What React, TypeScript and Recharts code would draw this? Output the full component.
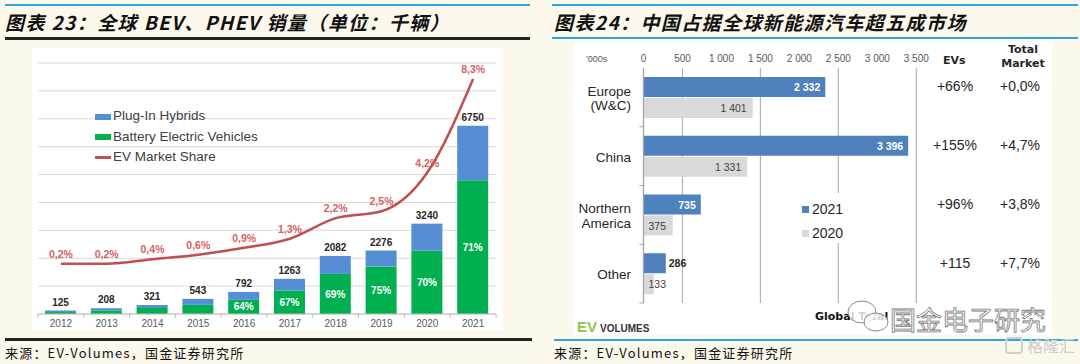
import React from "react"
import { ComposedChart, BarChart, Bar, Line, XAxis, YAxis, CartesianGrid, LabelList, Legend } from "recharts"

// 图表23 data (千辆)
const years = ["2012", "2013", "2014", "2015", "2016", "2017", "2018", "2019", "2020", "2021"]
const evTotal = [125, 208, 321, 543, 792, 1263, 2082, 2276, 3240, 6750]
const bevSales = [70, 130, 215, 330, 507, 846, 1437, 1707, 2268, 4792]
const phevSales = [55, 78, 106, 213, 285, 417, 645, 569, 972, 1958]
const bevShareLabel = [null, null, null, null, 64, 67, 69, 75, 70, 71]
const marketShare = [0.2, 0.2, 0.4, 0.6, 0.9, 1.3, 2.2, 2.5, 4.2, 8.3]
const unitTicks = [0, 1000, 2000, 3000, 4000, 5000, 6000, 7000, 8000, 9000]

// 图表24 data ('000s)
const regions = ["Europe\n(W&C)", "China", "Northern\nAmerica", "Other"]
const sales2021 = [2332, 3396, 735, 286]
const sales2020 = [1401, 1331, 375, 133]
const evGrowth = ["+66%", "+155%", "+96%", "+115"]
const marketGrowth = ["+0,0%", "+4,7%", "+3,8%", "+7,7%"]
const volumeTicks = [0, 500, 1000, 1500, 2000, 2500, 3000, 3500]

const salesData = years.map((year, i) => ({
  year,
  bev: bevSales[i],
  phev: phevSales[i],
  total: evTotal[i],
  bevPct: bevShareLabel[i],
  share: marketShare[i],
}))

const regionData = regions.map((region, i) => ({ region, y2021: sales2021[i], y2020: sales2020[i] }))

const SANS = "'Liberation Sans', Arial, sans-serif"
const CJK = "'Noto Sans CJK SC', sans-serif"
const VERD = "'DejaVu Sans', sans-serif"

const fmtSpace = (v: number) => String(v).replace(/\B(?=(\d{3})+(?!\d))/g, " ")

const YearTick = (props: any) => {
  const { x, y, payload, index } = props
  const half = 22.95
  return (
    <g>
      <line x1={x - half} x2={x - half} y1={y} y2={y + 4} stroke="#bfbfbf" />
      {index === years.length - 1 && <line x1={x + half} x2={x + half} y1={y} y2={y + 4} stroke="#bfbfbf" />}
      <text x={x} y={y + 13} textAnchor="middle" fill="#595959" fontSize={10} fontFamily={SANS}>
        {payload.value}
      </text>
    </g>
  )
}

const SalesLegend = (props: any) => {
  const items = props.payload || []
  const order = ["phev", "bev", "share"]
  return (
    <div style={{ fontFamily: SANS, fontSize: 13.5, color: "#404040" }}>
      {order.map((key) => {
        const it = items.find((p: any) => p.dataKey === key)
        if (!it) return null
        return (
          <div key={key} style={{ position: "relative", height: 20.5, lineHeight: "20.5px", paddingLeft: 18, whiteSpace: "nowrap" }}>
            <span
              style={{
                position: "absolute",
                left: 0,
                top: key === "share" ? 9 : 7.5,
                width: 16,
                height: key === "share" ? 2.5 : 6,
                background: it.color,
              }}
            />
            {it.value}
          </div>
        )
      })}
    </div>
  )
}

const RegionTick = (props: any) => {
  const { x, y, payload } = props
  const lines = String(payload.value).split("\n")
  const band = 58.75
  const gap = 14.5
  const first = 4.8 - ((lines.length - 1) * gap) / 2 + 1
  return (
    <g>
      <line x1={x - 4} x2={x} y1={y + band / 2} y2={y + band / 2} stroke="#a6a6a6" />
      <text x={x - 12.5} y={y} textAnchor="end" fill="#262626" fontSize={13.5} fontFamily={SANS}>
        {lines.map((l, i) => (
          <tspan key={i} x={x - 12.5} dy={i === 0 ? first : gap}>
            {l}
          </tspan>
        ))}
      </text>
    </g>
  )
}

const GrowthTick = (props: any) => {
  const { x, y, index } = props
  return (
    <g fontFamily={SANS} fontSize={14} fill="#262626">
      <text x={x + 38.7} y={y - 11} dy={5} textAnchor="middle">
        {evGrowth[index]}
      </text>
      <text x={x + 103.7} y={y - 11} dy={5} textAnchor="middle">
        {marketGrowth[index]}
      </text>
    </g>
  )
}

const label2021 = (props: any) => {
  const { x, y, width, height, value } = props
  const inside = width > 40
  return (
    <text
      x={inside ? x + width - 5 : x + width + 3}
      y={y + height / 2}
      dy={4}
      textAnchor={inside ? "end" : "start"}
      fill={inside ? "#ffffff" : "#262626"}
      fontSize={10.5}
      fontWeight="bold"
      fontFamily={SANS}
    >
      {fmtSpace(value)}
    </text>
  )
}

const label2020 = (props: any) => {
  const { x, y, width, height, value } = props
  const fits = width > 45
  return (
    <text
      x={fits ? x + width - 6 : x + 5}
      y={y + height / 2}
      dy={4}
      textAnchor={fits ? "end" : "start"}
      fill="#404040"
      fontSize={10.5}
      fontFamily={SANS}
    >
      {fmtSpace(value)}
    </text>
  )
}

const YearLegend = (props: any) => {
  const items = props.payload || []
  const order = ["y2021", "y2020"]
  return (
    <div style={{ position: "relative", width: 53, height: 50, background: "#fff", fontFamily: SANS, fontSize: 14, color: "#262626" }}>
      {order.map((key, i) => {
        const it = items.find((p: any) => p.dataKey === key)
        if (!it) return null
        return (
          <div key={key} style={{ position: "absolute", left: 5, top: i === 0 ? 8 : 32, lineHeight: "16px", whiteSpace: "nowrap" }}>
            <span style={{ display: "inline-block", width: 7, height: 7, background: it.color, marginRight: 3, verticalAlign: "1px" }} />
            {it.value}
          </div>
        )
      })}
    </div>
  )
}

const hLine = (left: number, top: number, width: number, h: number, color: string) => (
  <div style={{ position: "absolute", left, top, width, height: h, background: color }} />
)

export default function App() {
  return (
    <div style={{ position: "absolute", left: 0, top: 0, width: 1080, height: 364, background: "#fdf8ec", overflow: "hidden" }}>
      {/* left panel frame */}
      {hLine(5, 4, 525, 2, "#29a8e0")}
      <div style={{ position: "absolute", left: 5, top: 10, fontFamily: CJK, fontSize: 19, fontWeight: "bold", fontStyle: "italic", letterSpacing: 1.4, lineHeight: "24px", color: "#111", whiteSpace: "nowrap" }}>
        图表 23：全球 BEV、PHEV 销量（单位：千辆）
      </div>
      {hLine(5, 37, 525, 3, "#262322")}
      <div style={{ position: "absolute", left: 32, top: 48, width: 470, height: 282, background: "#fff" }}>
        <ComposedChart width={470} height={282} data={salesData} margin={{ top: 15, right: 6, bottom: 0, left: 6 }} barSize={31}>
          <CartesianGrid vertical={false} stroke="#d9d9d9" yAxisId="units" />
          <XAxis dataKey="year" axisLine={{ stroke: "#bfbfbf" }} tickLine={false} tickSize={0} tickMargin={0} height={16} interval={0} tick={<YearTick />} />
          <YAxis yAxisId="units" hide domain={[0, 9000]} ticks={unitTicks} />
          <YAxis yAxisId="share" hide orientation="right" domain={[-2, 9]} />
          <Bar yAxisId="units" dataKey="bev" stackId="ev" fill="#00b050" name="Battery Electric Vehicles" isAnimationActive={false}>
            <LabelList dataKey="bevPct" position="center" formatter={(v: any) => v + "%"} fill="#ffffff" fontSize={10} fontWeight="bold" fontFamily={SANS} />
          </Bar>
          <Bar yAxisId="units" dataKey="phev" stackId="ev" fill="#558ed5" name="Plug-In Hybrids" isAnimationActive={false}>
            <LabelList dataKey="total" position="top" offset={5} fill="#262626" fontSize={10} fontWeight="bold" fontFamily={SANS} />
          </Bar>
          <Line yAxisId="share" dataKey="share" name="EV Market Share" type="monotone" stroke="#c0504d" strokeWidth={2.5} dot={false} activeDot={false} isAnimationActive={false}>
            <LabelList dataKey="share" position="top" offset={6} formatter={(v: any) => String(v).replace(".", ",") + "%"} fill="#d65f5f" fontSize={10.5} fontWeight="bold" fontFamily={SANS} />
          </Line>
          <Legend layout="vertical" align="center" verticalAlign="middle" content={<SalesLegend />} wrapperStyle={{ left: 63, top: 58, width: 200 }} />
        </ComposedChart>
      </div>
      {hLine(5, 338, 527, 3, "#262322")}
      <div style={{ position: "absolute", left: 5, top: 344, fontFamily: CJK, fontSize: 13, letterSpacing: 1.2, lineHeight: "18px", color: "#111", whiteSpace: "nowrap" }}>
        来源：EV-Volumes，国金证券研究所
      </div>

      {/* right panel frame */}
      {hLine(552, 4, 526, 2, "#29a8e0")}
      <div style={{ position: "absolute", left: 554, top: 10, fontFamily: CJK, fontSize: 19, fontWeight: "bold", fontStyle: "italic", letterSpacing: 1.4, lineHeight: "24px", color: "#111", whiteSpace: "nowrap" }}>
        图表24：中国占据全球新能源汽车超五成市场
      </div>
      {hLine(552, 37, 526, 2, "#29a8e0")}
      <div style={{ position: "absolute", left: 573, top: 42, width: 479, height: 293, background: "#fff" }}>
        <BarChart layout="vertical" width={479} height={293} data={regionData} margin={{ top: 0, right: 0, bottom: 32, left: 0 }} barSize={20} barGap={1}>
          <CartesianGrid horizontal={false} stroke="#b3b3b3" strokeWidth={1.2} yAxisId="region" />
          <XAxis type="number" orientation="top" domain={[0, 3500]} ticks={volumeTicks} height={26} axisLine={false} tickLine={false} tickSize={0} tickMargin={6} tickFormatter={fmtSpace} tick={{ fill: "#595959", fontSize: 10, fontFamily: SANS }} />
          <YAxis yAxisId="region" type="category" dataKey="region" width={70.5} axisLine={{ stroke: "#a6a6a6", strokeWidth: 1.2 }} tickLine={false} tickSize={0} tickMargin={0} tick={<RegionTick />} />
          <YAxis yAxisId="growth" type="category" dataKey="region" orientation="right" width={135.7} axisLine={false} tickLine={false} tickSize={0} tickMargin={0} tick={<GrowthTick />} />
          <Bar yAxisId="region" dataKey="y2021" name="2021" fill="#4f81bd" isAnimationActive={false}>
            <LabelList dataKey="y2021" content={label2021} />
          </Bar>
          <Bar yAxisId="region" dataKey="y2020" name="2020" fill="#d9d9d9" isAnimationActive={false}>
            <LabelList dataKey="y2020" content={label2020} />
          </Bar>
          <Legend layout="vertical" align="center" verticalAlign="middle" content={<YearLegend />} wrapperStyle={{ left: 224, top: 151, width: 53 }} />
        </BarChart>
        <div style={{ position: "absolute", left: 13, top: 12, fontFamily: SANS, fontSize: 9, color: "#595959" }}>'000s</div>
        <div style={{ position: "absolute", left: 370, top: 12, fontFamily: VERD, fontSize: 11, fontWeight: "bold", color: "#262626" }}>EVs</div>
        <div style={{ position: "absolute", left: 425, top: 1, width: 50, textAlign: "center", fontFamily: VERD, fontSize: 11, fontWeight: "bold", lineHeight: "14px", color: "#262626" }}>
          Total<br />Market
        </div>
        <div style={{ position: "absolute", left: 4, top: 276, whiteSpace: "nowrap", fontFamily: SANS, fontWeight: "bold" }}>
          <span style={{ color: "#8dc63f", fontSize: 15 }}>EV</span>
          <span style={{ color: "#333", fontSize: 10, marginLeft: 3 }}>VOLUMES</span>
        </div>
        <div style={{ position: "absolute", left: 242, top: 268, fontFamily: VERD, fontSize: 11, fontWeight: "bold", color: "#111", whiteSpace: "nowrap" }}>
          Global Total
        </div>
      </div>
      {hLine(554, 339, 524, 2, "#29a8e0")}
      <div style={{ position: "absolute", left: 554, top: 344, fontFamily: CJK, fontSize: 13, letterSpacing: 1.2, lineHeight: "18px", color: "#111", whiteSpace: "nowrap" }}>
        来源：EV-Volumes，国金证券研究所
      </div>

      {/* watermarks */}
      <svg style={{ position: "absolute", left: 0, top: 0 }} width={1080} height={364}>
        <ellipse cx={862} cy={312} rx={14} ry={11} fill="rgba(255,255,255,0.8)" stroke="#8a8a8a" strokeWidth={1} />
        <ellipse cx={876} cy={322} rx={12} ry={9} fill="rgba(255,255,255,0.8)" stroke="#8a8a8a" strokeWidth={1} />
        <text x={890} y={330} fontFamily={CJK} fontSize={26} fill="rgba(255,255,255,0.75)" stroke="#7a7a7a" strokeWidth={0.8}>
          国金电子研究
        </text>
        <rect x={1006} y={338} width={16} height={15} rx={3} fill="none" stroke="#cfcfcf" strokeWidth={2} />
        <text x={1027} y={352} fontFamily={CJK} fontSize={16} fill="#cccccc">
          格隆汇
        </text>
      </svg>
    </div>
  )
}
